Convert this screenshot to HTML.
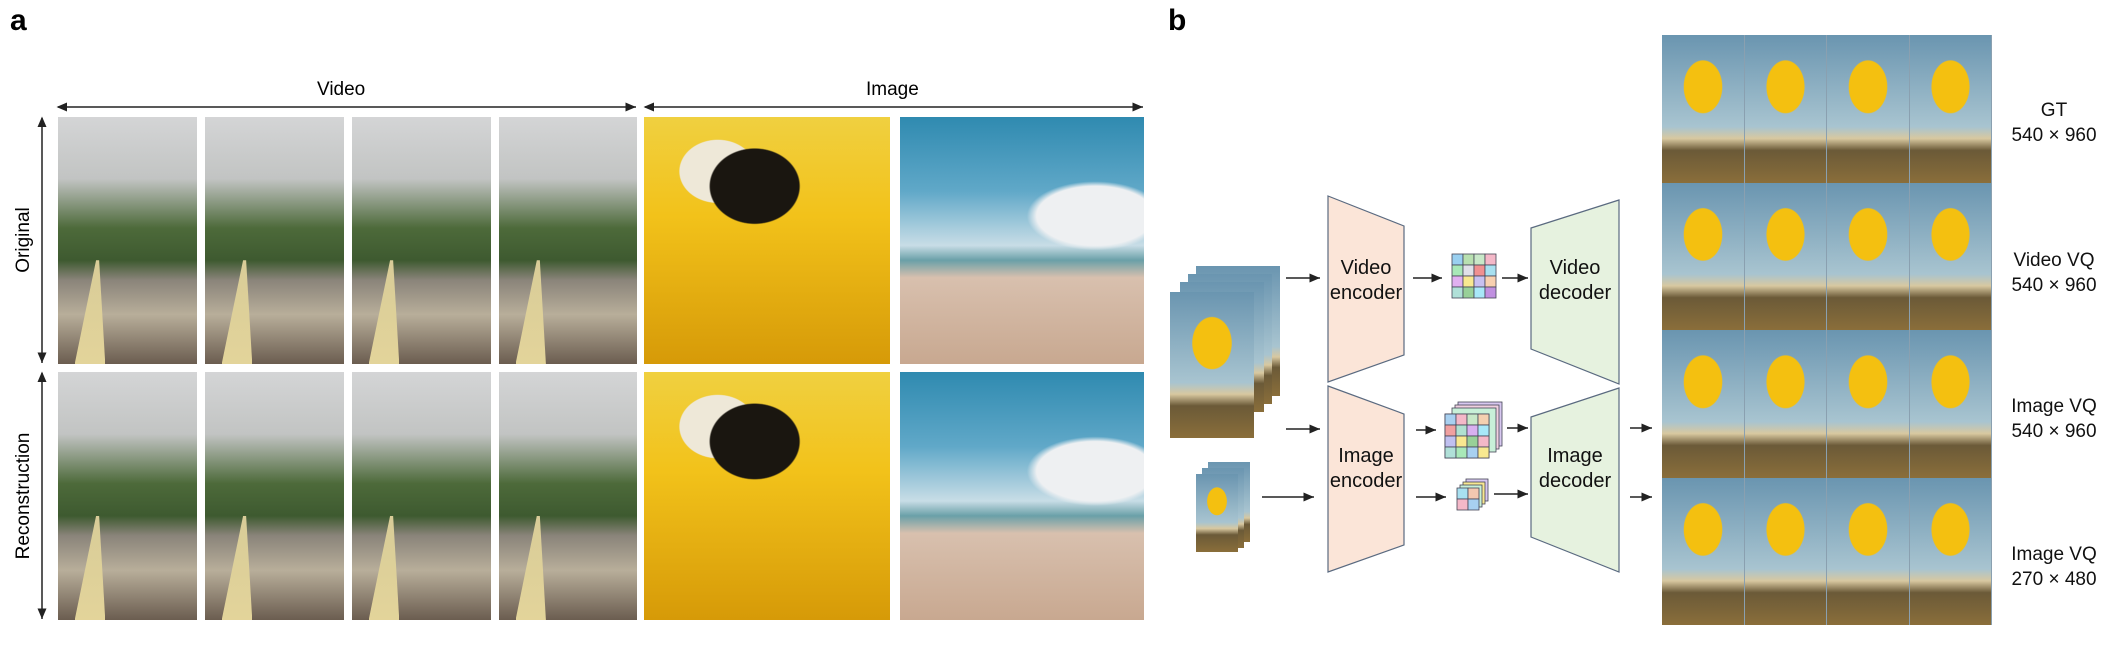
<!DOCTYPE html>
<html><head><meta charset="utf-8"><style>
body{margin:0;width:2120px;height:646px;background:#fff;position:relative;overflow:hidden;font-family:"Liberation Sans",sans-serif;}
.a{position:absolute}
.train{background:linear-gradient(180deg,#d4d5d6 0%,#c2c4c3 25%,#4d6a3a 45%,#3e5a30 58%,#8a847a 66%,#b8ae9a 80%,#6b5d50 100%);}
.train::after{content:"";position:absolute;left:12%;bottom:0;width:22%;height:42%;background:linear-gradient(180deg,#d8cc98,#e3d49a);clip-path:polygon(70% 0,80% 0,100% 100%,0 100%);}
.bee{background:radial-gradient(ellipse 30% 25% at 45% 28%,#1a1610 60%,transparent 62%),radial-gradient(ellipse 22% 18% at 30% 22%,#eee8d8 70%,transparent 72%),linear-gradient(180deg,#f0d040 0%,#f2c21a 40%,#d69a08 100%);}
.beach{background:radial-gradient(ellipse 40% 20% at 80% 40%,#eef0f2 60%,transparent 70%),linear-gradient(180deg,#2f8ab0 0%,#60a8c8 30%,#c8dde6 52%,#6aa0a8 58%,#d8c0ae 65%,#c8a890 100%);}
.bal{background:radial-gradient(ellipse 25% 19% at 50% 35%,#f4c010 92%,transparent 96%),linear-gradient(180deg,#6a95b0 0%,#a8c4d0 62%,#d8c8a0 70%,#6b5a38 78%,#8a6e3a 100%);border-right:1px solid #8aa0b0;box-sizing:border-box}
.lbl{position:absolute;font-size:19px;text-align:center;color:#111;line-height:25px}
</style></head><body>
<div class="a" style="left:10px;top:4px;font-size:30px;font-weight:bold;">a</div>
<div class="a" style="left:1168px;top:4px;font-size:30px;font-weight:bold;">b</div>
<div class="a" style="left:317px;top:79px;font-size:19px;">Video</div>
<div class="a" style="left:866px;top:79px;font-size:19px;">Image</div>
<div class="a" style="left:24px;top:240px;font-size:19px;transform:translate(-50%,-50%) rotate(-90deg);">Original</div>
<div class="a" style="left:24px;top:496px;font-size:19px;transform:translate(-50%,-50%) rotate(-90deg);white-space:nowrap;">Reconstruction</div>

<div class="a train" style="left:58px;top:117px;width:139px;height:247px;"></div>
<div class="a train" style="left:205px;top:117px;width:139px;height:247px;"></div>
<div class="a train" style="left:352px;top:117px;width:139px;height:247px;"></div>
<div class="a train" style="left:499px;top:117px;width:138px;height:247px;"></div>
<div class="a bee" style="left:644px;top:117px;width:246px;height:247px;"></div>
<div class="a beach" style="left:900px;top:117px;width:244px;height:247px;"></div>
<div class="a train" style="left:58px;top:372px;width:139px;height:248px;"></div>
<div class="a train" style="left:205px;top:372px;width:139px;height:248px;"></div>
<div class="a train" style="left:352px;top:372px;width:139px;height:248px;"></div>
<div class="a train" style="left:499px;top:372px;width:138px;height:248px;"></div>
<div class="a bee" style="left:644px;top:372px;width:246px;height:248px;"></div>
<div class="a beach" style="left:900px;top:372px;width:244px;height:248px;"></div>

<div class="a" style="left:1662px;top:35px;width:330px;height:590px;display:grid;grid-template-columns:repeat(4,1fr);grid-template-rows:repeat(4,1fr);">
<div class="bal"></div><div class="bal"></div><div class="bal"></div><div class="bal"></div>
<div class="bal"></div><div class="bal"></div><div class="bal"></div><div class="bal"></div>
<div class="bal"></div><div class="bal"></div><div class="bal"></div><div class="bal"></div>
<div class="bal"></div><div class="bal"></div><div class="bal"></div><div class="bal"></div>
</div>
<div class="lbl" style="left:1995px;width:118px;top:98px;">GT<br>540 × 960</div>
<div class="lbl" style="left:1995px;width:118px;top:248px;">Video VQ<br>540 × 960</div>
<div class="lbl" style="left:1995px;width:118px;top:394px;">Image VQ<br>540 × 960</div>
<div class="lbl" style="left:1995px;width:118px;top:542px;">Image VQ<br>270 × 480</div>

<div class="a bal" style="left:1196px;top:266px;width:84px;height:130px;border:none"></div>
<div class="a bal" style="left:1188px;top:274px;width:84px;height:130px;border:none"></div>
<div class="a bal" style="left:1180px;top:282px;width:84px;height:130px;border:none"></div>
<div class="a bal" style="left:1170px;top:292px;width:84px;height:146px;border:none"></div>
<div class="a bal" style="left:1208px;top:462px;width:42px;height:80px;border:none"></div>
<div class="a bal" style="left:1202px;top:468px;width:42px;height:80px;border:none"></div>
<div class="a bal" style="left:1196px;top:474px;width:42px;height:78px;border:none"></div>

<svg class="a" style="left:0;top:0" width="2120" height="646">
<defs>
<marker id="m" markerWidth="8" markerHeight="8" refX="7" refY="4" orient="auto"><path d="M0,1 L7,4 L0,7 z" fill="#222"/></marker>
<marker id="ms" markerWidth="8" markerHeight="8" refX="1" refY="4" orient="auto"><path d="M7,1 L0,4 L7,7 z" fill="#222"/></marker>
</defs>
<g stroke="#222" stroke-width="1.5" fill="none">
<line x1="58" y1="107" x2="636" y2="107" marker-end="url(#m)" marker-start="url(#ms)"/>
<line x1="645" y1="107" x2="1143" y2="107" marker-end="url(#m)" marker-start="url(#ms)"/>
<line x1="42" y1="118" x2="42" y2="363" marker-end="url(#m)" marker-start="url(#ms)"/>
<line x1="42" y1="373" x2="42" y2="619" marker-end="url(#m)" marker-start="url(#ms)"/>
<line x1="1286" y1="278" x2="1320" y2="278" marker-end="url(#m)"/>
<line x1="1413" y1="278" x2="1442" y2="278" marker-end="url(#m)"/>
<line x1="1502" y1="278" x2="1528" y2="278" marker-end="url(#m)"/>
<line x1="1286" y1="429" x2="1320" y2="429" marker-end="url(#m)"/>
<line x1="1262" y1="497" x2="1314" y2="497" marker-end="url(#m)"/>
<line x1="1416" y1="430" x2="1436" y2="430" marker-end="url(#m)"/>
<line x1="1507" y1="428" x2="1528" y2="428" marker-end="url(#m)"/>
<line x1="1416" y1="497" x2="1446" y2="497" marker-end="url(#m)"/>
<line x1="1494" y1="494" x2="1528" y2="494" marker-end="url(#m)"/>
<line x1="1630" y1="428" x2="1652" y2="428" marker-end="url(#m)"/>
<line x1="1630" y1="497" x2="1652" y2="497" marker-end="url(#m)"/>
</g>
<line x1="1560" y1="278" x2="1586" y2="278" stroke="#111" stroke-width="3" marker-end="url(#m)"/>
<g stroke="#5a6a80" stroke-width="1.2">
<polygon points="1328,196 1404,226 1404,355 1328,382" fill="#fbe5d8"/>
<polygon points="1328,386 1404,414 1404,545 1328,572" fill="#fbe5d8"/>
<polygon points="1531,228 1619,200 1619,384 1531,349" fill="#e6f2df"/>
<polygon points="1531,417 1619,388 1619,572 1531,537" fill="#e6f2df"/>
</g>
<g font-family="Liberation Sans,sans-serif" font-size="20" text-anchor="middle" fill="#111">
<text x="1366" y="274">Video</text><text x="1366" y="299">encoder</text>
<text x="1575" y="274">Video</text><text x="1575" y="299">decoder</text>
<text x="1366" y="462">Image</text><text x="1366" y="487">encoder</text>
<text x="1575" y="462">Image</text><text x="1575" y="487">decoder</text>
</g>
<g stroke="#445" stroke-width="0.8">
<rect x="1452" y="254" width="11" height="11" fill="#9ad0f0"/><rect x="1463" y="254" width="11" height="11" fill="#b8e0b0"/><rect x="1474" y="254" width="11" height="11" fill="#c8e8c8"/><rect x="1485" y="254" width="11" height="11" fill="#f4b8c8"/>
<rect x="1452" y="265" width="11" height="11" fill="#a8e8b8"/><rect x="1463" y="265" width="11" height="11" fill="#e0e0e8"/><rect x="1474" y="265" width="11" height="11" fill="#f09090"/><rect x="1485" y="265" width="11" height="11" fill="#a8e0f0"/>
<rect x="1452" y="276" width="11" height="11" fill="#e0b0f0"/><rect x="1463" y="276" width="11" height="11" fill="#f8e890"/><rect x="1474" y="276" width="11" height="11" fill="#c8c0f0"/><rect x="1485" y="276" width="11" height="11" fill="#f8d0b0"/>
<rect x="1452" y="287" width="11" height="11" fill="#b0e0d8"/><rect x="1463" y="287" width="11" height="11" fill="#98d098"/><rect x="1474" y="287" width="11" height="11" fill="#a8e8f8"/><rect x="1485" y="287" width="11" height="11" fill="#c090e0"/>
<rect x="1458" y="402" width="44" height="44" fill="#d8c8f0"/>
<rect x="1455" y="405" width="44" height="44" fill="#f0d0e0"/>
<rect x="1452" y="408" width="44" height="44" fill="#c8f0d8"/>
<rect x="1445" y="414" width="44" height="44" fill="#f8e0a0"/>
<rect x="1445" y="414" width="11" height="11" fill="#a8d0f0"/><rect x="1456" y="414" width="11" height="11" fill="#f4b8c8"/><rect x="1467" y="414" width="11" height="11" fill="#c8e8c8"/><rect x="1478" y="414" width="11" height="11" fill="#f4d0b0"/>
<rect x="1445" y="425" width="11" height="11" fill="#f0a0a0"/><rect x="1456" y="425" width="11" height="11" fill="#b0e0d0"/><rect x="1467" y="425" width="11" height="11" fill="#d8b0f0"/><rect x="1478" y="425" width="11" height="11" fill="#a8e8f8"/>
<rect x="1445" y="436" width="11" height="11" fill="#c0c0f0"/><rect x="1456" y="436" width="11" height="11" fill="#f8e890"/><rect x="1467" y="436" width="11" height="11" fill="#98d098"/><rect x="1478" y="436" width="11" height="11" fill="#f4b8c8"/>
<rect x="1445" y="447" width="11" height="11" fill="#b0e0d8"/><rect x="1456" y="447" width="11" height="11" fill="#a8e8b8"/><rect x="1467" y="447" width="11" height="11" fill="#a8d0f0"/><rect x="1478" y="447" width="11" height="11" fill="#f8e890"/>
<rect x="1466" y="479" width="22" height="22" fill="#d8c8f0"/>
<rect x="1463" y="482" width="22" height="22" fill="#f8e890"/>
<rect x="1460" y="485" width="22" height="22" fill="#c8f0d8"/>
<rect x="1457" y="488" width="11" height="11" fill="#a8e0f0"/><rect x="1468" y="488" width="11" height="11" fill="#f4c8b0"/>
<rect x="1457" y="499" width="11" height="11" fill="#f4b8c8"/><rect x="1468" y="499" width="11" height="11" fill="#a8d0f0"/>
</g>
</svg>
</body></html>
